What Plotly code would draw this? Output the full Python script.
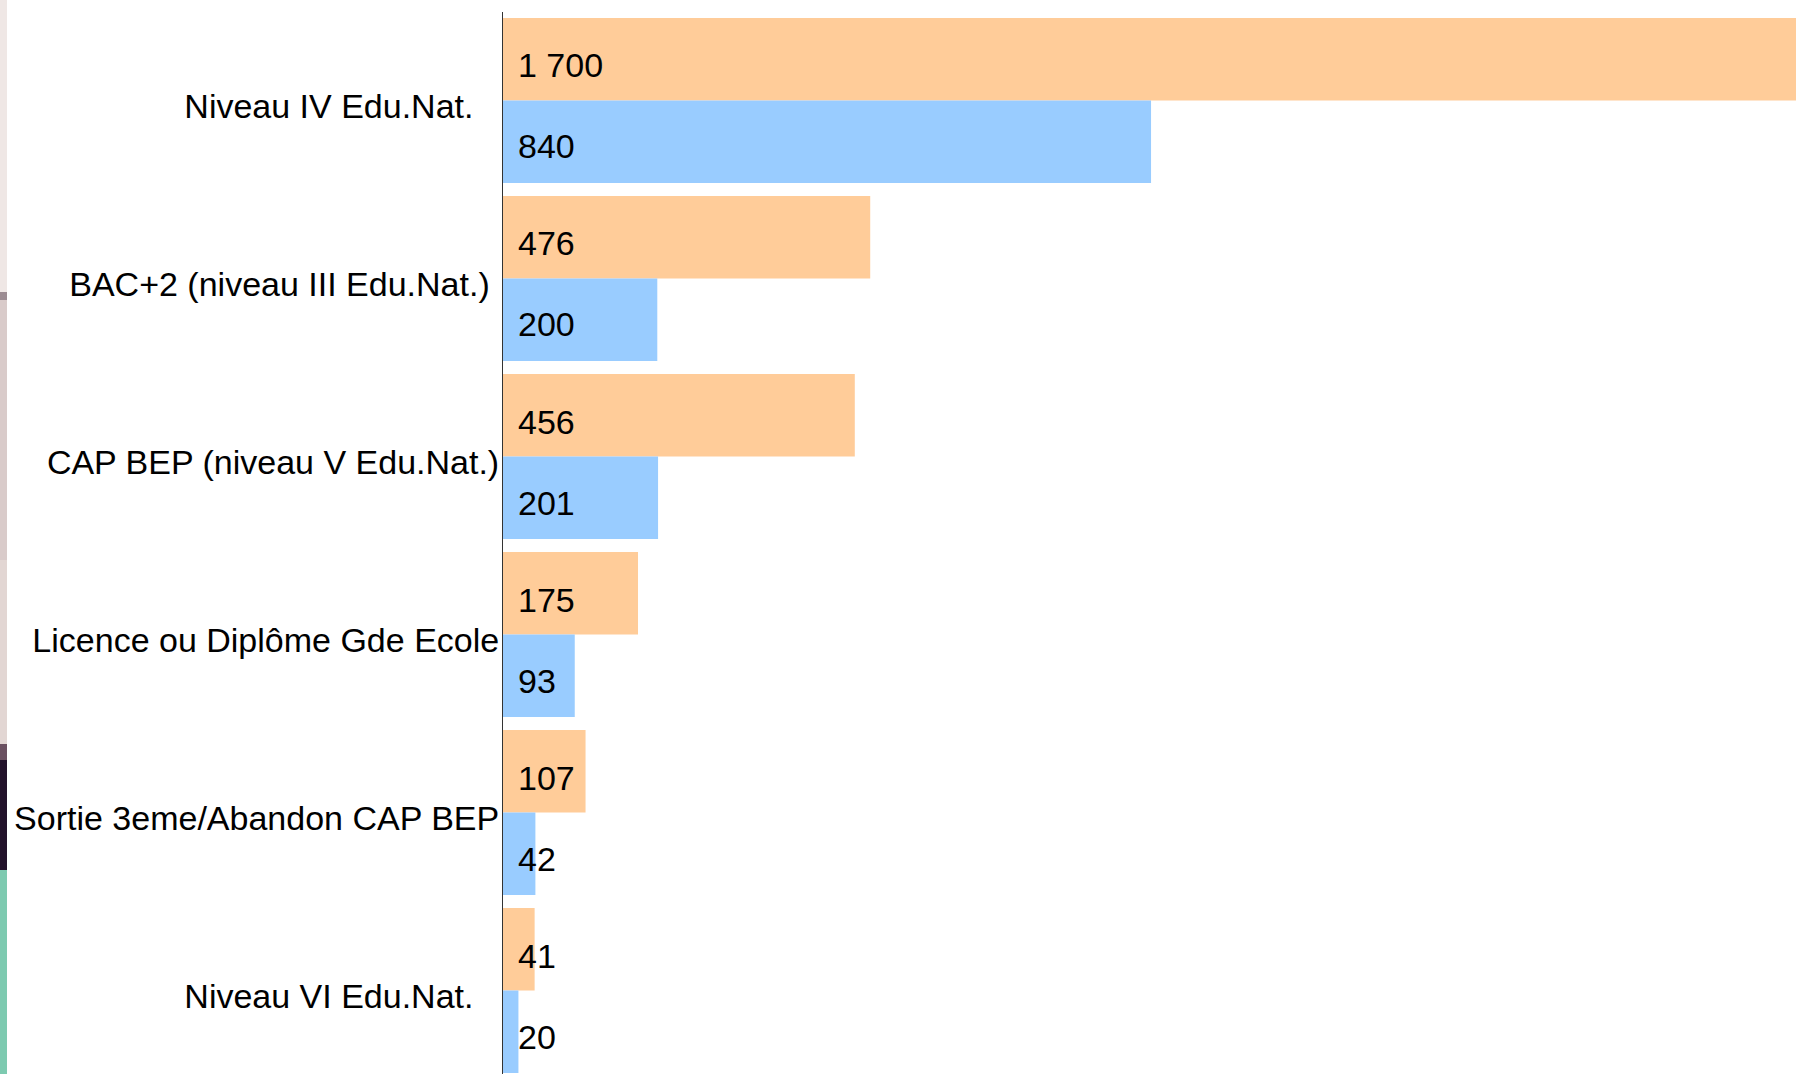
import plotly.graph_objects as go

categories = [
    "Niveau IV Edu.Nat.",
    "BAC+2 (niveau III Edu.Nat.)",
    "CAP BEP (niveau V Edu.Nat.)",
    "Licence ou Diplôme Gde Ecole",
    "Sortie 3eme/Abandon CAP BEP",
    "Niveau VI Edu.Nat.",
]
tick_labels = [
    "Niveau IV Edu.Nat.\u00a0\u00a0\u2009",
    "BAC+2 (niveau III Edu.Nat.)\u00a0",
    "CAP BEP (niveau V Edu.Nat.)",
    "Licence ou Diplôme Gde Ecole",
    "Sortie 3eme/Abandon CAP BEP",
    "Niveau VI Edu.Nat.\u00a0\u00a0\u2009",
]
orange_values = [1700, 476, 456, 175, 107, 41]
blue_values = [840, 200, 201, 93, 42, 20]

W, H = 1796, 1074
FONT = "Liberation Sans"
ORANGE = "#FFCC99"
BLUE = "#99CCFF"

fig = go.Figure()
fig.add_trace(go.Bar(y=categories, x=orange_values, orientation="h",
                     marker=dict(color=ORANGE, line=dict(width=0)), name="A"))
fig.add_trace(go.Bar(y=categories, x=blue_values, orientation="h",
                     marker=dict(color=BLUE, line=dict(width=0)), name="B"))

def fmt(v):
    return f"{v:,}".replace(",", " ")

annotations = []
for cat, ov, bv in zip(categories, orange_values, blue_values):
    for v, shift in ((ov, 35), (bv, -46)):
        annotations.append(dict(
            x=0, y=cat, xref="x", yref="y", text=fmt(v), showarrow=False,
            xanchor="left", yanchor="middle", xshift=13, yshift=shift,
            font=dict(family=FONT, size=34, color="#000000")))

# decorative strip on the left edge (part of the slide background)
strip = [
    (0, 292, "#efe7e5"),
    (292, 300, "#9c8c92"),
    (300, 560, "#d9cbca"),
    (560, 744, "#e2d6d3"),
    (744, 760, "#6a5060"),
    (760, 870, "#22122a"),
    (870, 1074, "#7dcab0"),
]
shapes = []
for y0, y1, c in strip:
    shapes.append(dict(type="rect", xref="paper", yref="paper",
                       x0=0, x1=7 / W, y0=1 - y1 / H, y1=1 - y0 / H,
                       fillcolor=c, line=dict(width=0), layer="below"))

fig.update_layout(
    width=W, height=H,
    margin=dict(l=0, r=0, t=0, b=0, pad=0),
    paper_bgcolor="white", plot_bgcolor="white",
    barmode="group", bargap=0.073, bargroupgap=0,
    showlegend=False,
    font=dict(family=FONT, size=34, color="#000000"),
    annotations=annotations,
    shapes=shapes,
    xaxis=dict(domain=[503 / W, 1], range=[0, 1676], visible=False,
               showgrid=False, zeroline=False),
    yaxis=dict(domain=[0, 1 - 11.5 / H], range=[5.469, -0.5],
               tickmode="array", tickvals=categories, ticktext=tick_labels,
               showline=True, linecolor="#333333", linewidth=1,
               ticks="", showgrid=False, zeroline=False,
               tickfont=dict(family=FONT, size=34, color="#000000"),
               ticklabelstandoff=-4, ticklabelshift=-6, automargin=False),
)

fig.write_html("out.html", config={"displayModeBar": False},
               post_script="document.body.style.margin='0';")
